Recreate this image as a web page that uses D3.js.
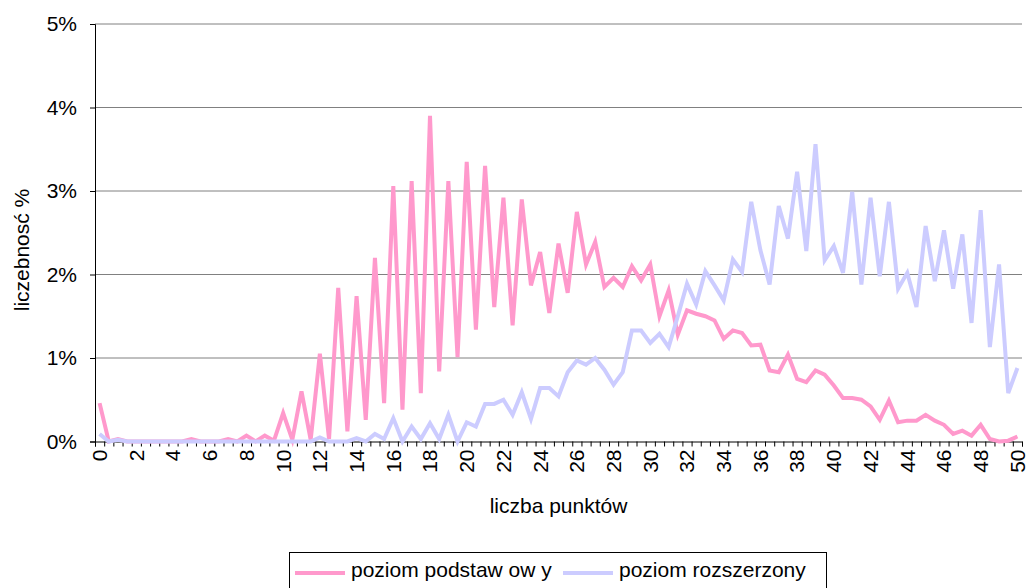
<!DOCTYPE html>
<html>
<head>
<meta charset="utf-8">
<script src="https://cdn.jsdelivr.net/npm/d3@7"></script>
<style>
  body { margin: 0; background: #fff; }
  svg { display: block; font-family: "Liberation Sans", Arial, sans-serif; }
</style>
</head>
<body>
<svg id="chart" width="1029" height="588"></svg>
<script>
// punkty (co 0,5)
const scores = [0,0.5,1,1.5,2,2.5,3,3.5,4,4.5,5,5.5,6,6.5,7,7.5,8,8.5,9,9.5,
  10,10.5,11,11.5,12,12.5,13,13.5,14,14.5,15,15.5,16,16.5,17,17.5,18,18.5,19,19.5,
  20,20.5,21,21.5,22,22.5,23,23.5,24,24.5,25,25.5,26,26.5,27,27.5,28,28.5,29,29.5,
  30,30.5,31,31.5,32,32.5,33,33.5,34,34.5,35,35.5,36,36.5,37,37.5,38,38.5,39,39.5,
  40,40.5,41,41.5,42,42.5,43,43.5,44,44.5,45,45.5,46,46.5,47,47.5,48,48.5,49,49.5,50]

const podstawowy = [0.46,0,0.03,0,0,0,0,0,0,0,
  0.03,0,0,0,0.03,0,0.07,0,0.07,0.01,
  0.34,0.02,0.60,0.02,1.05,0.03,1.84,0.12,1.74,0.26,
  2.20,0.46,3.06,0.38,3.12,0.58,3.90,0.84,3.12,1.01,
  3.35,1.34,3.30,1.61,2.92,1.39,2.90,1.87,2.27,1.54,
  2.37,1.78,2.75,2.12,2.39,1.85,1.96,1.85,2.10,1.93,
  2.12,1.50,1.81,1.28,1.57,1.53,1.50,1.45,1.23,1.33,
  1.30,1.15,1.16,0.85,0.83,1.04,0.75,0.71,0.85,0.80,
  0.67,0.52,0.52,0.50,0.42,0.26,0.49,0.23,0.25,0.25,
  0.32,0.25,0.20,0.09,0.13,0.07,0.20,0.03,0,0.01,0.06]

const rozszerzony = [0.09,0,0.02,0,0,0,0,0,0,0,
  0,0,0,0,0,0,0,0,0,0,
  0,0,0,0,0.05,0,0,0,0.04,0,
  0.09,0.03,0.28,0,0.18,0.03,0.22,0.03,0.32,0,
  0.23,0.18,0.45,0.45,0.50,0.32,0.59,0.27,0.64,0.64,
  0.54,0.83,0.97,0.92,1.00,0.86,0.68,0.83,1.33,1.33,
  1.18,1.29,1.13,1.50,1.89,1.64,2.04,1.87,1.69,2.18,
  2.03,2.87,2.29,1.88,2.82,2.43,3.23,2.28,3.56,2.17,
  2.34,2.02,2.99,1.88,2.92,1.98,2.87,1.83,2.02,1.61,
  2.58,1.92,2.53,1.83,2.48,1.42,2.77,1.13,2.12,0.58,0.88]

const xLabels = [0,2,4,6,8,10,12,14,16,18,20,22,24,26,28,30,32,34,36,38,40,42,44,46,48,50]
const yTicks = [0,1,2,3,4,5]

const series = [
  { name: 'poziom podstaw ow y', values: podstawowy, color: '#ff99cc' },
  { name: 'poziom rozszerzony', values: rozszerzony, color: '#ccccff' }
]

const plotLeft = 95, plotRight = 1022, plotTop = 24, plotBottom = 441.5

const svg = d3.select('#chart')

const x = d3.scaleBand()
            .domain(scores)
            .range([plotLeft, plotRight])
            .padding(0)
const xEdge = d3.scaleLinear()
            .domain([0, scores.length])
            .range([plotLeft, plotRight])
const y = d3.scaleLinear()
            .domain([0, 5])
            .range([plotBottom, plotTop])

// siatka
svg.append('g')
   .selectAll('line')
   .data(yTicks.filter(d => d > 0))
   .enter()
   .append('line')
   .attr('x1', plotLeft)
   .attr('x2', plotRight)
   .attr('y1', d => y(d))
   .attr('y2', d => y(d))
   .attr('stroke', '#808080')
   .attr('stroke-width', 1)

// oś Y
const yAxis = svg.append('g')
   .attr('transform', `translate(${plotLeft},0)`)
   .call(d3.axisLeft(y).tickValues(yTicks).tickSize(5).tickPadding(13).tickFormat(d => d + '%'))
yAxis.select('.domain').attr('stroke', '#000')
yAxis.selectAll('.tick line').attr('stroke', '#000')
yAxis.selectAll('text').attr('font-size', 21).attr('fill', '#000')
     .attr('font-family', '"Liberation Sans", Arial, sans-serif')

// oś X - kreski na granicach kategorii
const xTicksAxis = svg.append('g')
   .attr('transform', `translate(0,${plotBottom})`)
   .call(d3.axisBottom(xEdge).tickValues(d3.range(scores.length + 1)).tickSize(5).tickFormat(''))
xTicksAxis.select('.domain').attr('stroke', '#000')
xTicksAxis.selectAll('.tick line').attr('stroke', '#000')

// etykiety X
svg.append('g')
   .selectAll('text')
   .data(xLabels)
   .enter()
   .append('text')
   .attr('transform', d => `translate(${x(d) + x.bandwidth() / 2},${plotBottom + 8}) rotate(-90)`)
   .attr('text-anchor', 'end')
   .attr('dy', '0.35em')
   .attr('font-size', 21)
   .text(d => d)

// linie
const line = d3.line()
   .x((d, i) => x(scores[i]) + x.bandwidth() / 2)
   .y(d => y(d))

svg.append('g')
   .selectAll('path')
   .data(series)
   .enter()
   .append('path')
   .attr('d', d => line(d.values))
   .attr('fill', 'none')
   .attr('stroke', d => d.color)
   .attr('stroke-width', 4)

// tytuły osi
svg.append('text')
   .attr('x', (plotLeft + plotRight) / 2)
   .attr('y', 513)
   .attr('text-anchor', 'middle')
   .attr('font-size', 21)
   .text('liczba punktów')

svg.append('text')
   .attr('transform', 'translate(22,250) rotate(-90)')
   .attr('text-anchor', 'middle')
   .attr('dy', '0.35em')
   .attr('font-size', 21)
   .text('liczebnosć %')

// legenda
const legend = svg.append('g')
legend.append('rect')
   .attr('x', 289.5)
   .attr('y', 552.5)
   .attr('width', 537)
   .attr('height', 50)
   .attr('fill', '#fff')
   .attr('stroke', '#000')

const legendX = [295, 563]
const legendItem = legend.selectAll('g.item')
   .data(series)
   .enter()
   .append('g')
   .attr('class', 'item')
   .attr('transform', (d, i) => `translate(${legendX[i]},573)`)
legendItem.append('line')
   .attr('x1', 0)
   .attr('x2', 50)
   .attr('stroke', d => d.color)
   .attr('stroke-width', 4)
legendItem.append('text')
   .attr('x', 56)
   .attr('y', 4)
   .attr('font-size', 21)
   .text(d => d.name)
</script>
</body>
</html>
